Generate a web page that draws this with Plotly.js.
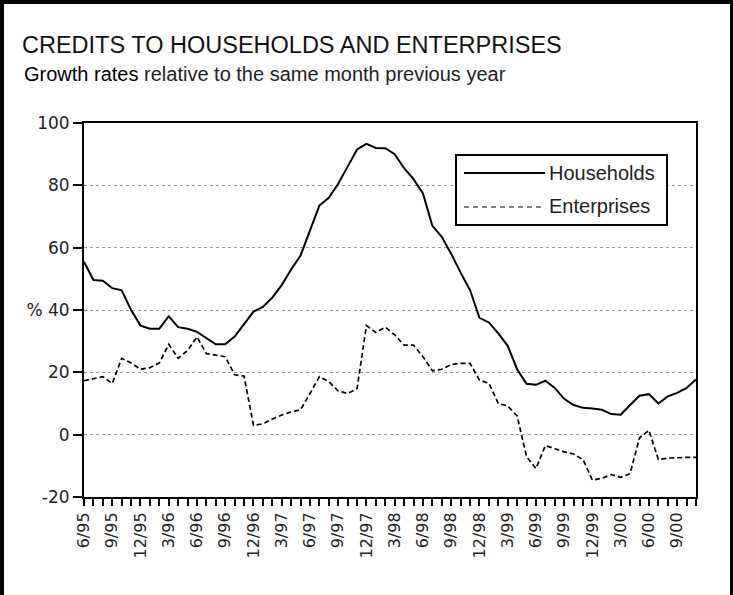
<!DOCTYPE html>
<html>
<head>
<meta charset="utf-8">
<script src="https://cdn.plot.ly/plotly-3.0.1.min.js"></script>
<style>
  html, body { margin: 0; padding: 0; background: #fff; }
  #wrap { position: relative; width: 733px; height: 595px; overflow: hidden; }
  #chart { position: absolute; left: 0; top: 0; width: 733px; height: 595px; }
  #frame { position: absolute; left: 0; top: 0; width: 733px; height: 600px; box-sizing: border-box;
           border-left: 4px solid #000; border-top: 4px solid #000; border-right: 3px solid #000; pointer-events: none; }
</style>
</head>
<body>
<div id="wrap"><div id="chart"></div><div id="frame"></div></div>
<script>
// Months (6/95 .. 11/00)
const months = [
  '6/95','7/95','8/95','9/95','10/95','11/95','12/95',
  '1/96','2/96','3/96','4/96','5/96','6/96','7/96','8/96','9/96','10/96','11/96','12/96',
  '1/97','2/97','3/97','4/97','5/97','6/97','7/97','8/97','9/97','10/97','11/97','12/97',
  '1/98','2/98','3/98','4/98','5/98','6/98','7/98','8/98','9/98','10/98','11/98','12/98',
  '1/99','2/99','3/99','4/99','5/99','6/99','7/99','8/99','9/99','10/99','11/99','12/99',
  '1/00','2/00','3/00','4/00','5/00','6/00','7/00','8/00','9/00','10/00','11/00'
];

// Tick labels shown on the x axis (quarterly)
const tickLabels = ['6/95','9/95','12/95','3/96','6/96','9/96','12/96','3/97','6/97','9/97','12/97',
  '3/98','6/98','9/98','12/98','3/99','6/99','9/99','12/99','3/00','6/00','9/00'];

// Growth rates, % relative to the same month previous year
const households = [
  55.5, 49.6, 49.4, 47.0, 46.3, 40.0, 35.0,
  34.0, 34.0, 38.0, 34.5, 34.0, 33.0, 31.0, 29.0, 29.0, 31.5, 35.5, 39.5,
  41.0, 44.0, 48.0, 53.0, 57.5, 65.5, 73.5, 76.0, 80.5, 86.0, 91.5, 93.3,
  92.0, 91.9, 90.0, 85.5, 82.0, 77.4, 67.0, 63.5, 58.0, 52.0, 46.4, 37.5,
  36.0, 32.5, 28.5, 21.0, 16.3, 16.0, 17.3, 15.0, 11.5, 9.5, 8.6, 8.4,
  8.0, 6.6, 6.4, 9.5, 12.5, 13.0, 10.0, 12.3, 13.4, 15.0, 17.7
];
const enterprises = [
  17.3, 18.0, 18.6, 16.4, 24.5, 23.0, 21.0,
  21.5, 23.0, 29.0, 24.5, 27.0, 31.4, 26.0, 25.5, 25.0, 19.2, 18.8, 3.0,
  3.5, 5.0, 6.3, 7.3, 8.0, 13.2, 18.6, 17.0, 14.0, 13.2, 14.8, 35.0,
  32.8, 34.5, 32.0, 28.7, 28.7, 25.0, 20.5, 21.0, 22.5, 22.9, 22.9, 17.5,
  16.5, 10.0, 9.2, 6.0, -7.0, -10.9, -3.5, -4.5, -5.5, -6.2, -8.0, -14.6,
  -14.0, -12.8, -13.7, -12.5, -1.0, 1.4, -8.0, -7.5, -7.3, -7.3, -7.3
];

// Y axis ticks
const yTickVals = [-20, 0, 20, 40, 60, 80, 100];
const yTickText = ['-20', '0', '20', '% 40', '60', '80', '100'];

const seriesNames = ['Households', 'Enterprises'];

const FONT = 'Liberation Sans, Arial, sans-serif';
const TICKFONT = 'DejaVu Sans';
const xTickText = months.map(m => tickLabels.includes(m) ? m : '');

const hhLine = { color: '#000', width: 2 };
const enLine = { color: '#000', width: 1.7, dash: '5px,3px' };

const traces = [
  { type: 'scatter', mode: 'lines', name: seriesNames[0], x: months, y: households, line: hhLine, showlegend: false },
  { type: 'scatter', mode: 'lines', name: seriesNames[1], x: months, y: enterprises, line: enLine, showlegend: false }
];

// pixel -> paper helpers for the hand-built legend box and titles
const PL = 84, PW = 612, PB = 497, PH = 374;
const px = v => (v - PL) / PW;
const py = v => (PB - v) / PH;

const layout = {
  width: 733, height: 595,
  margin: { l: 84, r: 37, t: 123, b: 98 },
  paper_bgcolor: '#fff', plot_bgcolor: '#fff',
  font: { family: FONT, color: '#222', size: 17 },
  title: { text: 'CREDITS TO HOUSEHOLDS AND ENTERPRISES', xref: 'container', yref: 'container',
           x: 22 / 733, xanchor: 'left', y: 1 - 44.5 / 595, yanchor: 'middle',
           font: { family: FONT, size: 23.5, color: '#111' } },
  annotations: [
    { xref: 'paper', yref: 'paper', x: px(22), y: py(74), xanchor: 'left', yanchor: 'middle',
      showarrow: false, text: '<span style="color:#000">Growth rates</span> relative to the same month previous year',
      font: { family: FONT, size: 20, color: '#222' } },
    { xref: 'paper', yref: 'paper', x: px(547), y: py(173), xanchor: 'left', yanchor: 'middle',
      showarrow: false, text: seriesNames[0], font: { family: FONT, size: 20, color: '#222' } },
    { xref: 'paper', yref: 'paper', x: px(547), y: py(206), xanchor: 'left', yanchor: 'middle',
      showarrow: false, text: seriesNames[1], font: { family: FONT, size: 20, color: '#222' } }
  ],
  shapes: [
    { type: 'rect', xref: 'paper', yref: 'paper', x0: px(456), x1: px(667), y0: py(225), y1: py(155),
      fillcolor: '#fff', line: { color: '#000', width: 2 }, layer: 'above' },
    { type: 'line', xref: 'paper', yref: 'paper', x0: px(464), x1: px(545), y0: py(173), y1: py(173),
      line: hhLine, layer: 'above' },
    { type: 'line', xref: 'paper', yref: 'paper', x0: px(464), x1: px(545), y0: py(207), y1: py(207),
      line: { color: '#000', width: 1.2, dash: '5px,4px' }, layer: 'above' }
  ],
  showlegend: false,
  xaxis: {
    type: 'category', range: [0, 65], autorange: false,
    tickmode: 'array', tickvals: months, ticktext: xTickText, tickangle: -90,
    ticks: 'outside', ticklen: 7, tickwidth: 2, tickcolor: '#000',
    showline: true, linecolor: '#000', linewidth: 2, mirror: true,
    showgrid: false, zeroline: false,
    tickfont: { family: TICKFONT, size: 16, color: '#222' }
  },
  xaxis2: {
    overlaying: 'x', anchor: 'y', side: 'bottom', type: 'linear', range: [0, 65], autorange: false,
    tickmode: 'linear', tick0: 0, dtick: 1,
    ticks: 'inside', ticklen: 5, tickwidth: 2, tickcolor: '#000',
    showticklabels: false, showline: false, showgrid: false, zeroline: false
  },
  yaxis: {
    range: [-20, 100], autorange: false,
    tickmode: 'array', tickvals: yTickVals, ticktext: yTickText,
    ticks: 'outside', ticklen: 9, tickwidth: 2, tickcolor: '#000',
    showline: true, linecolor: '#000', linewidth: 2, mirror: true,
    showgrid: true, gridcolor: '#999', gridwidth: 1, griddash: 'dot', zeroline: false,
    tickfont: { family: TICKFONT, size: 17, color: '#222' }
  }
};

Plotly.newPlot('chart', traces, layout, { displayModeBar: false, staticPlot: true });
</script>
</body>
</html>
